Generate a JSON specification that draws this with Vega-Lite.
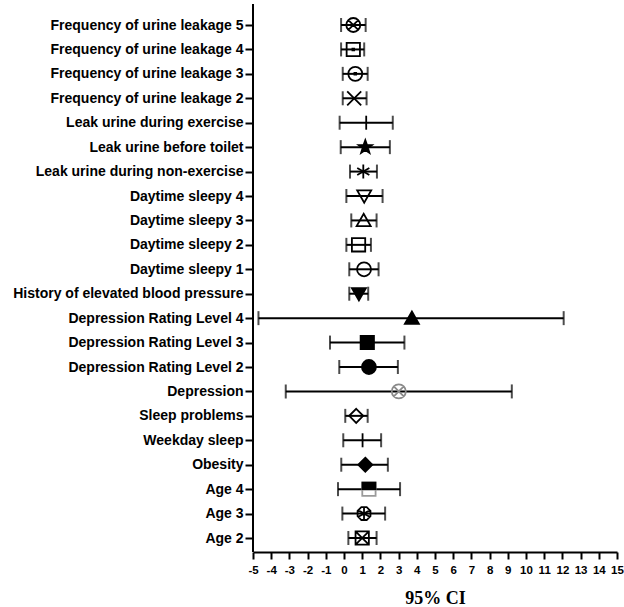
{
  "$schema": "https://vega.github.io/schema/vega-lite/v6.json",
  "autosize": {"type": "none"},
  "padding": {"left": 253, "top": 4, "right": 7, "bottom": 55},
  "width": 364,
  "height": 548,
  "background": "white",
  "config": {
    "view": {"stroke": null},
    "axisX": {
      "labelOverlap": false,
      "labelFlush": false,
      "tickCount": 21,
      "grid": false,
      "domainColor": "black",
      "domainWidth": 2,
      "tickColor": "black",
      "tickWidth": 2,
      "tickSize": 7,
      "labelPadding": 5,
      "labelFont": "Liberation Sans",
      "labelFontWeight": "bold",
      "labelFontSize": 11.5,
      "labelColor": "black",
      "titleFont": "Liberation Serif",
      "titleFontWeight": "bold",
      "titleFontSize": 18,
      "titleColor": "black",
      "titlePadding": 14
    }
  },
  "data": {
    "values": [
      {"label": "Frequency of urine leakage 5", "lo": -0.16, "est": 0.51, "hi": 1.19},
      {"label": "Frequency of urine leakage 4", "lo": -0.16, "est": 0.51, "hi": 1.11},
      {"label": "Frequency of urine leakage 3", "lo": -0.07, "est": 0.62, "hi": 1.3},
      {"label": "Frequency of urine leakage 2", "lo": -0.07, "est": 0.56, "hi": 1.24},
      {"label": "Leak urine during exercise", "lo": -0.24, "est": 1.22, "hi": 2.68},
      {"label": "Leak urine before toilet", "lo": -0.18, "est": 1.17, "hi": 2.52},
      {"label": "Leak urine during non-exercise", "lo": 0.33, "est": 1.06, "hi": 1.81},
      {"label": "Daytime sleepy 4", "lo": 0.13, "est": 1.11, "hi": 2.12},
      {"label": "Daytime sleepy 3", "lo": 0.4, "est": 1.08, "hi": 1.79},
      {"label": "Daytime sleepy 2", "lo": 0.13, "est": 0.8, "hi": 1.48},
      {"label": "Daytime sleepy 1", "lo": 0.29, "est": 1.1, "hi": 1.9},
      {"label": "History of elevated blood pressure", "lo": 0.29, "est": 0.82, "hi": 1.33},
      {"label": "Depression Rating Level 4", "lo": -4.7, "est": 3.73, "hi": 12.07},
      {"label": "Depression Rating Level 3", "lo": -0.77, "est": 1.28, "hi": 3.32},
      {"label": "Depression Rating Level 2", "lo": -0.26, "est": 1.37, "hi": 2.96},
      {"label": "Depression", "lo": -3.2, "est": 3.01, "hi": 9.22},
      {"label": "Sleep problems", "lo": 0.07, "est": 0.67, "hi": 1.3},
      {"label": "Weekday sleep", "lo": -0.04, "est": 1.02, "hi": 2.04},
      {"label": "Obesity", "lo": -0.15, "est": 1.17, "hi": 2.41},
      {"label": "Age 4", "lo": -0.33, "est": 1.37, "hi": 3.08},
      {"label": "Age 3", "lo": -0.09, "est": 1.1, "hi": 2.26},
      {"label": "Age 2", "lo": 0.24, "est": 1.0, "hi": 1.79}
    ]
  },
  "encoding": {
    "y": {
      "field": "label",
      "type": "nominal",
      "sort": null,
      "scale": {
        "type": "point",
        "padding": 0,
        "domain": ["Frequency of urine leakage 5", "Frequency of urine leakage 4", "Frequency of urine leakage 3", "Frequency of urine leakage 2", "Leak urine during exercise", "Leak urine before toilet", "Leak urine during non-exercise", "Daytime sleepy 4", "Daytime sleepy 3", "Daytime sleepy 2", "Daytime sleepy 1", "History of elevated blood pressure", "Depression Rating Level 4", "Depression Rating Level 3", "Depression Rating Level 2", "Depression", "Sleep problems", "Weekday sleep", "Obesity", "Age 4", "Age 3", "Age 2"],
        "range": [21, 534]
      },
      "axis": {
        "title": null,
        "domain": false,
        "tickColor": "black",
        "tickWidth": 2,
        "tickSize": 8,
        "labelPadding": 2,
        "labelFont": "Liberation Sans",
        "labelFontWeight": "bold",
        "labelFontSize": 14,
        "labelColor": "black",
        "labelLimit": 400
      }
    }
  },
  "layer": [
    {
      "mark": {"type": "rule", "color": "black", "strokeWidth": 2},
      "encoding": {
        "x": {
          "field": "lo",
          "type": "quantitative",
          "scale": {"domain": [-5, 15], "nice": false, "zero": false},
          "axis": {
            "title": "95% CI",
            "values": [-5, -4, -3, -2, -1, 0, 1, 2, 3, 4, 5, 6, 7, 8, 9, 10, 11, 12, 13, 14, 15],
            "tickCount": 21,
            "labelOverlap": false,
            "labelExpr": "'' + datum.value"
          }
        },
        "x2": {"field": "hi"}
      }
    },
    {
      "mark": {"type": "rule", "color": "black", "strokeWidth": 2},
      "encoding": {"x": {"datum": -5, "type": "quantitative"}, "y": null}
    },
    {
      "mark": {"type": "tick", "color": "black", "thickness": 2, "size": 14, "orient": "vertical"},
      "encoding": {"x": {"field": "lo", "type": "quantitative"}}
    },
    {
      "mark": {"type": "tick", "color": "black", "thickness": 2, "size": 14, "orient": "vertical"},
      "encoding": {"x": {"field": "hi", "type": "quantitative"}}
    },
    {
      "mark": {"type": "point", "filled": true, "size": 196, "opacity": 1},
      "encoding": {
        "x": {"field": "est", "type": "quantitative"},
        "shape": {
          "field": "label",
          "type": "nominal",
          "legend": null,
          "scale": {
            "domain": ["Frequency of urine leakage 5", "Frequency of urine leakage 4", "Frequency of urine leakage 3", "Frequency of urine leakage 2", "Leak urine during exercise", "Leak urine before toilet", "Leak urine during non-exercise", "Daytime sleepy 4", "Daytime sleepy 3", "Daytime sleepy 2", "Daytime sleepy 1", "History of elevated blood pressure", "Depression Rating Level 4", "Depression Rating Level 3", "Depression Rating Level 2", "Depression", "Sleep problems", "Weekday sleep", "Obesity", "Age 4", "Age 3", "Age 2"],
            "range": [
              "M1,0 A1,1 0 1,1 -1,0 A1,1 0 1,1 1,0 Z M-0.707,-0.707 L0.707,0.707 M-0.707,0.707 L0.707,-0.707",
              "M-0.95,-0.95 L0.95,-0.95 L0.95,0.95 L-0.95,0.95 Z M-0.12,-0.12 L0.12,-0.12 L0.12,0.12 L-0.12,0.12 Z",
              "M1,0 A1,1 0 1,1 -1,0 A1,1 0 1,1 1,0 Z M-0.12,-0.12 L0.12,-0.12 L0.12,0.12 L-0.12,0.12 Z",
              "M-1,-1 L1,1 M-1,1 L1,-1",
              "M0,-1 L0,1",
              "M0,-1 L0.235,-0.324 L0.951,-0.309 L0.38,0.124 L0.588,0.809 L0,0.4 L-0.588,0.809 L-0.38,0.124 L-0.951,-0.309 L-0.235,-0.324 Z",
              "M0,-1 L0,1 M-0.866,-0.5 L0.866,0.5 M-0.866,0.5 L0.866,-0.5",
              "M-1,-0.8 L1,-0.8 L0,0.95 Z",
              "M0,-0.95 L1,0.8 L-1,0.8 Z",
              "M-0.95,-0.95 L0.95,-0.95 L0.95,0.95 L-0.95,0.95 Z",
              "M1,0 A1,1 0 1,1 -1,0 A1,1 0 1,1 1,0 Z",
              "M-1,-0.8 L1,-0.8 L0,0.95 Z",
              "M0,-0.95 L1,0.8 L-1,0.8 Z",
              "M-0.95,-0.95 L0.95,-0.95 L0.95,0.95 L-0.95,0.95 Z",
              "M1,0 A1,1 0 1,1 -1,0 A1,1 0 1,1 1,0 Z",
              "M1,0 A1,1 0 1,1 -1,0 A1,1 0 1,1 1,0 Z M-0.707,-0.707 L0.707,0.707 M-0.707,0.707 L0.707,-0.707",
              "M0,-1 L1,0 L0,1 L-1,0 Z",
              "M0,-1 L0,1",
              "M0,-1 L1,0 L0,1 L-1,0 Z",
              "M-0.95,-0.95 L0.95,-0.95 L0.95,0.95 L-0.95,0.95 Z",
              "M-0.38,-0.92 L0.38,-0.92 L0.92,-0.38 L0.92,0.38 L0.38,0.92 L-0.38,0.92 L-0.92,0.38 L-0.92,-0.38 Z M0,-0.92 L0,0.92 M-0.8,-0.46 L0.8,0.46 M-0.8,0.46 L0.8,-0.46",
              "M-0.95,-0.95 L0.95,-0.95 L0.95,0.95 L-0.95,0.95 Z M-0.95,-0.95 L0.95,0.95 M-0.95,0.95 L0.95,-0.95"
            ]
          }
        },
        "fill": {
          "field": "label",
          "type": "nominal",
          "legend": null,
          "scale": {
            "domain": ["Frequency of urine leakage 5", "Frequency of urine leakage 4", "Frequency of urine leakage 3", "Frequency of urine leakage 2", "Leak urine during exercise", "Leak urine before toilet", "Leak urine during non-exercise", "Daytime sleepy 4", "Daytime sleepy 3", "Daytime sleepy 2", "Daytime sleepy 1", "History of elevated blood pressure", "Depression Rating Level 4", "Depression Rating Level 3", "Depression Rating Level 2", "Depression", "Sleep problems", "Weekday sleep", "Obesity", "Age 4", "Age 3", "Age 2"],
            "range": ["transparent", "transparent", "transparent", "transparent", "transparent", "black", "transparent", "transparent", "transparent", "transparent", "transparent", "black", "black", "black", "black", "transparent", "transparent", "transparent", "black", "transparent", "transparent", "transparent"]
          }
        },
        "stroke": {
          "field": "label",
          "type": "nominal",
          "legend": null,
          "scale": {
            "domain": ["Frequency of urine leakage 5", "Frequency of urine leakage 4", "Frequency of urine leakage 3", "Frequency of urine leakage 2", "Leak urine during exercise", "Leak urine before toilet", "Leak urine during non-exercise", "Daytime sleepy 4", "Daytime sleepy 3", "Daytime sleepy 2", "Daytime sleepy 1", "History of elevated blood pressure", "Depression Rating Level 4", "Depression Rating Level 3", "Depression Rating Level 2", "Depression", "Sleep problems", "Weekday sleep", "Obesity", "Age 4", "Age 3", "Age 2"],
            "range": ["black", "black", "black", "black", "black", "black", "black", "black", "black", "black", "black", "black", "black", "black", "black", "#8a8a8a", "black", "black", "black", "#9a9a9a", "black", "black"]
          }
        },
        "strokeWidth": {
          "field": "label",
          "type": "nominal",
          "legend": null,
          "scale": {
            "domain": ["Frequency of urine leakage 5", "Frequency of urine leakage 4", "Frequency of urine leakage 3", "Frequency of urine leakage 2", "Leak urine during exercise", "Leak urine before toilet", "Leak urine during non-exercise", "Daytime sleepy 4", "Daytime sleepy 3", "Daytime sleepy 2", "Daytime sleepy 1", "History of elevated blood pressure", "Depression Rating Level 4", "Depression Rating Level 3", "Depression Rating Level 2", "Depression", "Sleep problems", "Weekday sleep", "Obesity", "Age 4", "Age 3", "Age 2"],
            "range": [1.8, 1.8, 1.8, 1.8, 1.8, 1.8, 1.8, 1.8, 1.8, 1.8, 1.8, 1.8, 1.8, 1.8, 1.8, 1, 1.8, 1.8, 1.8, 1.2, 1.8, 1.8]
          }
        }
      }
    },
    {
      "transform": [{"filter": "datum.label === 'Age 4'"}],
      "mark": {"type": "point", "filled": true, "size": 196, "opacity": 1, "shape": "M-0.95,-0.95 L0.95,-0.95 L0.95,0 L-0.95,0 Z", "fill": "black", "stroke": "black", "strokeWidth": 1.5},
      "encoding": {"x": {"field": "est", "type": "quantitative"}}
    }
  ]
}
